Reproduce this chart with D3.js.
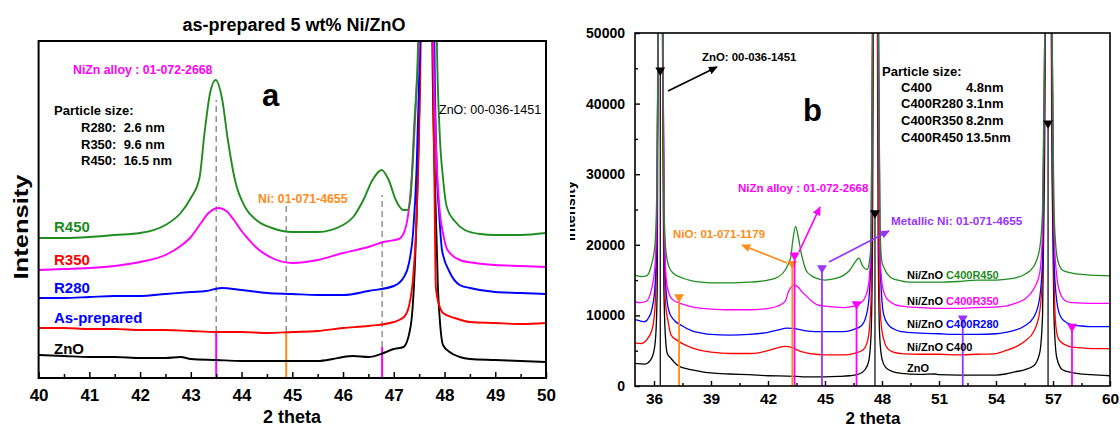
<!DOCTYPE html>
<html><head><meta charset="utf-8">
<script src="https://cdn.jsdelivr.net/npm/d3@7"></script>
<style>
body{margin:0;background:#fff}
svg{display:block}
text{font-family:"Liberation Sans",Arial,sans-serif}
</style>
</head><body>
<svg id="c" width="1120" height="427"></svg>
<script>
// ---------------- Panel a data (2 theta, arbitrary intensity) ----------------
const aTicks = [40,41,42,43,44,45,46,47,48,49,50];
const aSeries = ["ZnO","As-prepared","R280","R350","R450"];
const aZnO = [[40,23],[40.5,22],[41,21],[41.5,21],[42,20],[42.5,20],[42.8,21],[43,19],[43.5,18],[44,17],[44.5,17],[45,17],[45.5,17],[45.8,19],[46,21],[46.2,22],[46.5,21],[46.8,25],[47,29],[47.19,31],[47.33,51],[47.4,95],[47.46,180],[47.52,337],[47.65,2500],[47.76,337],[47.82,180],[47.87,90],[47.92,50],[47.97,33],[48.1,26],[48.3,21],[48.5,19],[49,18],[49.5,17],[50,16]];
const aAsPrep = [[40,50],[40.5,50],[41,49],[41.5,49],[42,48],[42.5,48],[43,47],[43.5,46],[44,46],[44.5,45],[45,46],[45.5,47],[46,50],[46.5,52],[47,56],[47.2,61],[47.3,72],[47.38,100],[47.45,160],[47.5,250],[47.53,337],[47.65,2500],[47.77,337],[47.8,200],[47.83,90],[47.9,72],[47.97,65],[48.2,60],[48.5,56],[49,55],[49.5,54],[50,55]];
const aR280 = [[40,80],[40.5,80],[41,81],[41.5,82],[42,82],[42.5,84],[43,86],[43.3,87],[43.6,90],[44,88],[44.5,85],[45,84],[45.5,83],[46,83],[46.5,87],[47,92],[47.2,101],[47.3,115],[47.38,145],[47.45,210],[47.5,300],[47.52,337],[47.65,2500],[47.8,337],[47.84,220],[47.9,160],[47.95,128],[48.1,106],[48.3,93],[48.5,90],[49,86],[49.5,85],[50,84]];
const aR350 = [[40,108],[40.5,109],[41,110],[41.5,112],[42,116],[42.5,123],[42.8,132],[43,141],[43.2,155],[43.35,165],[43.55,170],[43.7,167],[43.85,158],[44,147],[44.15,138],[44.3,130],[44.6,120],[45,115],[45.5,118],[46,125],[46.5,131],[46.8,136],[47.1,139],[47.22,148],[47.3,170],[47.38,220],[47.45,290],[47.5,337],[47.65,2500],[47.78,337],[47.82,250],[47.9,170],[47.97,145],[48.06,128],[48.3,118],[48.6,115],[49,113],[49.5,112],[50,111]];
const aR450 = [[40,140],[40.5,140],[41,141],[41.5,143],[42,145],[42.5,153],[42.8,165],[43,180],[43.17,200],[43.27,245],[43.38,285],[43.49,298],[43.62,278],[43.73,238],[43.87,198],[44.08,170],[44.29,158],[44.6,150],[45,146],[45.5,146],[46,153],[46.2,161],[46.4,178],[46.58,198],[46.76,208],[46.9,198],[47.04,178],[47.19,168],[47.27,168],[47.33,180],[47.4,250],[47.48,337],[47.65,2500],[47.85,337],[47.9,250],[47.97,200],[48.05,170],[48.2,157],[48.4,148],[48.7,144],[49,143],[49.5,143],[50,145]];
// reference patterns, panel a
const aRefX = [43.5, 44.88, 46.77];
const aRefH = [46, 46, 31];
const aRefDashTop = [278, 173, 183];
const aRefPhase = ["NiZn","Ni","NiZn"];

// ---------------- Panel b data (2 theta, counts) ----------------
const bTicks = [36,39,42,45,48,51,54,57,60];
const bYTicks = [0,10000,20000,30000,40000,50000];
const bSeries = ["ZnO","C400","C400R280","C400R350","C400R450"];
const bZnO = [[35,3200],[35.5,3100],[35.8,3600],[36.0,5000],[36.1,7500],[36.17,14000],[36.2,40000],[36.33,120000],[36.46,40000],[36.52,14000],[36.6,7000],[36.7,4600],[36.9,3900],[37.2,3000],[37.5,2600],[38,2300],[39,1850],[40,1700],[41,1600],[42,1450],[43,1400],[43.5,1350],[44,1300],[45,1300],[45.7,1350],[46.3,1450],[46.8,1700],[47.1,2300],[47.3,3500],[47.42,7000],[47.5,20000],[47.55,60000],[47.65,120000],[47.75,60000],[47.8,20000],[47.88,7000],[48,3800],[48.2,2600],[48.6,2000],[49,1800],[50,1650],[50.8,1700],[51,1600],[52,1550],[53,1550],[54,1550],[54.5,1700],[55,2000],[55.5,2300],[56,2900],[56.3,4700],[56.45,10000],[56.55,30000],[56.75,120000],[56.95,30000],[57.05,10000],[57.2,4000],[57.5,2300],[58,1900],[59,1600],[60,1450]];
const bC400 = [[35,6100],[35.3,6000],[35.6,6500],[35.9,8000],[36.05,11000],[36.15,20000],[36.2,45000],[36.33,120000],[36.46,45000],[36.52,20000],[36.6,12000],[36.75,9000],[36.9,7200],[37.2,6500],[37.5,6000],[38,5400],[38.5,5000],[39,4800],[40,4600],[41,4600],[41.5,4700],[42,5000],[42.5,5400],[42.9,5600],[43.3,5400],[43.7,4900],[44,4700],[44.5,4500],[45,4400],[46,4400],[46.5,4600],[47,5100],[47.2,6000],[47.35,8500],[47.45,15000],[47.52,50000],[47.65,120000],[47.78,50000],[47.85,15000],[47.95,9000],[48.1,6500],[48.3,5300],[48.6,4800],[49,4600],[50,4500],[51,4500],[52,4400],[53,4500],[54,4600],[54.5,5000],[55,5500],[55.5,6300],[56,7800],[56.3,10500],[56.45,16000],[56.55,40000],[56.75,120000],[56.95,40000],[57.05,16000],[57.15,8500],[57.3,6600],[57.6,5900],[58,5500],[58.5,5400],[59,5300],[60,5300]];
const bC400R280 = [[35,9400],[35.3,9200],[35.5,9100],[35.7,9600],[35.9,11000],[36.05,14000],[36.15,22000],[36.2,45000],[36.33,120000],[36.48,45000],[36.55,20000],[36.65,13000],[36.8,10500],[37,9500],[37.5,8500],[38,7800],[38.5,7500],[39,7300],[40,7200],[41,7300],[42,7600],[42.5,7900],[43,8200],[43.5,8100],[44,7800],[44.5,7700],[45,7700],[46,7700],[46.5,8000],[46.9,8500],[47.15,9800],[47.3,12000],[47.42,18000],[47.5,50000],[47.65,120000],[47.82,50000],[47.9,18000],[48,12000],[48.1,10000],[48.3,8800],[48.6,8100],[49,7700],[50,7500],[51,7400],[52,7300],[53,7300],[54,7400],[54.5,7600],[55,7900],[55.5,8500],[56,9800],[56.3,12500],[56.45,18000],[56.55,45000],[56.75,120000],[56.97,45000],[57.05,18000],[57.2,12000],[57.4,9800],[57.7,9000],[58,8700],[58.5,8500],[59,8400],[60,8400]];
const bC400R350 = [[35,11900],[35.3,11800],[35.6,12000],[35.85,13500],[36.05,17000],[36.15,25000],[36.2,45000],[36.33,120000],[36.48,45000],[36.55,22000],[36.65,15000],[36.8,13000],[37,12200],[37.5,11600],[38,11200],[38.5,11000],[39,10900],[40,10800],[41,10800],[42,11000],[42.5,11300],[42.9,12000],[43.1,13500],[43.38,14300],[43.6,14000],[43.8,13300],[44,12800],[44.3,12000],[44.6,11500],[45,11300],[46,11100],[46.5,11300],[46.9,11800],[47.15,12800],[47.3,14500],[47.42,20000],[47.5,50000],[47.65,120000],[47.8,50000],[47.88,20000],[48,14500],[48.2,12600],[48.5,11800],[49,11300],[50,11100],[51,11000],[52,11000],[53,11100],[54,11200],[54.5,11300],[55,11700],[55.5,12300],[56,13800],[56.3,16000],[56.45,22000],[56.55,45000],[56.75,120000],[56.97,45000],[57.05,22000],[57.2,15500],[57.4,13000],[57.7,12000],[58,11800],[59,11700],[60,11700]];
const bC400R450 = [[35,15700],[35.3,15500],[35.6,15600],[35.85,17000],[36.05,20000],[36.15,28000],[36.2,45000],[36.33,120000],[36.46,45000],[36.53,25000],[36.63,19000],[36.8,16800],[37,16000],[37.5,15300],[38,14900],[38.5,14700],[39,14600],[40,14600],[41,14700],[41.5,14800],[42,15000],[42.5,15400],[42.9,16400],[43.1,17500],[43.2,18300],[43.3,20500],[43.45,22600],[43.6,21000],[43.75,18800],[43.9,17200],[44,16400],[44.3,15600],[44.6,15200],[45,15000],[45.5,15200],[46,15700],[46.3,16400],[46.55,17400],[46.78,18100],[47.0,16900],[47.22,16500],[47.38,18500],[47.45,24000],[47.5,50000],[47.65,120000],[47.82,50000],[47.9,22000],[48,17500],[48.1,16800],[48.3,15800],[48.5,15300],[49,14900],[49.5,14700],[50,14700],[51,14700],[52,14800],[53,15000],[54,15000],[54.5,15100],[55,15300],[55.5,15800],[56,17000],[56.3,19500],[56.45,25000],[56.55,45000],[56.75,120000],[56.97,45000],[57.05,25000],[57.2,18500],[57.35,17000],[57.5,16400],[58,16000],[58.5,15800],[59,15700],[60,15600]];
// reference patterns, panel b (position, marker height, phase)
const bRefX = [36.33, 47.63, 56.74, 37.32, 43.28, 43.4, 46.66, 58.0, 44.84, 52.25];
const bRefH = [44700, 24500, 37200, 12600, 17300, 18500, 11600, 8400, 16700, 9600];
const bRefPhase = ["ZnO","ZnO","ZnO","NiO","NiO","NiZn","NiZn","NiZn","Ni","Ni"];

// ---------------- styles ----------------
const GREEN = "#1e8c1e", RED = "#ff0000", BLUE = "#0000ff", MAG = "#ff00ff", BLK = "#000000";
const ORANGE = "#ff8c1a", PURPLE = "#9933ff";
const phaseColorA = {NiZn: MAG, Ni: ORANGE};
const phaseColorB = {ZnO: BLK, NiO: ORANGE, NiZn: MAG, Ni: PURPLE};

const svg = d3.select("#c");
const defs = svg.append("defs");
function marker(id, color){
  defs.append("marker").attr("id", id).attr("viewBox","0 0 10 10").attr("refX",9).attr("refY",5)
    .attr("markerWidth",9).attr("markerHeight",9).attr("markerUnits","userSpaceOnUse").attr("orient","auto")
    .append("path").attr("d","M0,0.5 L10,5 L0,9.5 Z").attr("fill",color);
}
marker("arK", BLK); marker("arO", ORANGE); marker("arM", MAG); marker("arP", PURPLE);

// ================= Panel a =================
const xA = d3.scaleLinear().domain([40,50]).range([38.6,546]);
const yA = d3.scaleLinear().domain([0,337]).range([378,41]);
defs.append("clipPath").attr("id","clipA").append("rect")
  .attr("x",xA(40)).attr("y",yA(337)).attr("width",xA(50)-xA(40)).attr("height",yA(0)-yA(337));
const gA = svg.append("g");
const lineA = d3.line().x(d=>xA(d[0])).y(d=>yA(d[1])).curve(d3.curveMonotoneX);

// dashed guides + reference bars
const refA = gA.append("g").attr("clip-path","url(#clipA)");
aRefX.forEach((x,i)=>{
  refA.append("line").attr("x1",xA(x)).attr("x2",xA(x)).attr("y1",yA(aRefH[i])).attr("y2",yA(aRefDashTop[i]))
    .attr("stroke","#808080").attr("stroke-width",1.3).attr("stroke-dasharray","6,4");
  refA.append("line").attr("x1",xA(x)).attr("x2",xA(x)).attr("y1",yA(0)).attr("y2",yA(aRefH[i]))
    .attr("stroke", phaseColorA[aRefPhase[i]]).attr("stroke-width",2);
});

const curvesA = gA.append("g").attr("clip-path","url(#clipA)");
[[aZnO,BLK],[aAsPrep,RED],[aR280,BLUE],[aR350,MAG],[aR450,GREEN]].forEach(([d,c])=>{
  curvesA.append("path").datum(d).attr("d",lineA).attr("fill","none").attr("stroke",c).attr("stroke-width",1.9).attr("stroke-linejoin","round");
});

// axes a
const axA = gA.append("g").attr("transform",`translate(0,${yA(0)})`)
  .call(d3.axisBottom(xA).tickValues(aTicks).tickFormat(d3.format("d")).tickSizeInner(-6).tickSizeOuter(0).tickPadding(11));
axA.select(".domain").remove();
axA.selectAll(".tick line").attr("stroke","#000").attr("stroke-width",1.5);
axA.selectAll("text").attr("font-size",17).attr("font-weight","bold").attr("fill","#000").attr("font-family","Liberation Sans, Arial, sans-serif");
const axAm = gA.append("g").attr("transform",`translate(0,${yA(0)})`)
  .call(d3.axisBottom(xA).tickValues(d3.range(40.5,50,1)).tickFormat("").tickSizeInner(-4).tickSizeOuter(0));
axAm.select(".domain").remove();
axAm.selectAll(".tick line").attr("stroke","#000").attr("stroke-width",1.5);
gA.append("rect").attr("x",xA(40)).attr("y",yA(337)).attr("width",xA(50)-xA(40)).attr("height",yA(0)-yA(337))
  .attr("fill","none").attr("stroke","#000").attr("stroke-width",2);

// texts a
function txt(g,x,y,s,opt){
  const t = g.append("text").attr("x",x).attr("y",y).text(s)
    .attr("font-size",opt.size||12).attr("font-weight",opt.weight||"bold").attr("fill",opt.color||"#000")
    .attr("text-anchor",opt.anchor||"start").attr("dominant-baseline","central").style("white-space","pre");
  if(opt.family) t.attr("font-family",opt.family);
  return t;
}
txt(gA,294,25,"as-prepared 5 wt% Ni/ZnO",{size:18,anchor:"middle"});
txt(gA,292,417,"2 theta",{size:18,anchor:"middle"});
gA.append("text").attr("transform","translate(21,227) rotate(-90)").attr("text-anchor","middle").attr("dominant-baseline","central")
  .attr("font-size",20).attr("font-weight","bold").attr("textLength",105).attr("lengthAdjust","spacingAndGlyphs").text("Intensity");
txt(gA,73,70,"NiZn alloy : 01-072-2668",{size:12.3,color:MAG});
txt(gA,262,95,"a",{size:31,family:"Liberation Serif, Times New Roman, serif"});
txt(gA,54,110,"Particle size:",{size:13});
txt(gA,81,127,"R280:  2.6 nm",{size:13});
txt(gA,81,144,"R350:  9.6 nm",{size:13});
txt(gA,81,160,"R450:  16.5 nm",{size:13});
txt(gA,439,110,"ZnO: 00-036-1451",{size:12.5,weight:"normal"});
txt(gA,258,199,"Ni: 01-071-4655",{size:12.3,color:ORANGE});
const aLabelY = [348,317,287,259,226];
const aLabelTxt = ["ZnO","As-prepared","R280","R350","R450"];
const aLabelCol = [BLK,BLUE,BLUE,RED,GREEN];
aLabelTxt.forEach((s,i)=>txt(gA,54,aLabelY[i],s,{size:15,color:aLabelCol[i]}));

// ================= Panel b =================
const xB = d3.scaleLinear().domain([35,60]).range([635,1110]);
const yB = d3.scaleLinear().domain([0,50000]).range([386,33]);
defs.append("clipPath").attr("id","clipB").append("rect")
  .attr("x",xB(35)).attr("y",yB(50000)).attr("width",xB(60)-xB(35)).attr("height",yB(0)-yB(50000));
const gB = svg.append("g");
const lineB = d3.line().x(d=>xB(d[0])).y(d=>yB(d[1])).curve(d3.curveMonotoneX);

const curvesB = gB.append("g").attr("clip-path","url(#clipB)");
[[bZnO,BLK],[bC400,RED],[bC400R280,BLUE],[bC400R350,MAG],[bC400R450,GREEN]].forEach(([d,c])=>{
  curvesB.append("path").datum(d).attr("d",lineB).attr("fill","none").attr("stroke",c).attr("stroke-width",1.3).attr("stroke-linejoin","round");
});
// reference bars with triangles
const tri = d3.symbol().type(d3.symbolTriangle).size(42);
bRefX.forEach((x,i)=>{
  const c = phaseColorB[bRefPhase[i]];
  curvesB.append("line").attr("x1",xB(x)).attr("x2",xB(x)).attr("y1",yB(0)).attr("y2",yB(bRefH[i]))
    .attr("stroke",c).attr("stroke-width",c===BLK?1.2:1.8);
  curvesB.append("path").attr("d",tri).attr("fill",c)
    .attr("transform",`translate(${xB(x)},${yB(bRefH[i])}) rotate(180)`);
});

// axes b
const axBx = gB.append("g").attr("transform",`translate(0,${yB(0)})`)
  .call(d3.axisBottom(xB).tickValues(bTicks).tickFormat(d3.format("d")).tickSizeInner(-5).tickSizeOuter(0).tickPadding(7));
const axBxm = gB.append("g").attr("transform",`translate(0,${yB(0)})`)
  .call(d3.axisBottom(xB).tickValues(d3.range(37.5,60,3)).tickFormat("").tickSizeInner(-3).tickSizeOuter(0));
const axBy = gB.append("g").attr("transform",`translate(${xB(35)},0)`)
  .call(d3.axisLeft(yB).tickValues(bYTicks).tickFormat(d3.format("d")).tickSizeInner(-5).tickSizeOuter(0).tickPadding(10));
const axBym = gB.append("g").attr("transform",`translate(${xB(35)},0)`)
  .call(d3.axisLeft(yB).tickValues([5000,15000,25000,35000,45000]).tickFormat("").tickSizeInner(-3).tickSizeOuter(0));
[axBx,axBxm,axBy,axBym].forEach(a=>{a.select(".domain").remove(); a.selectAll(".tick line").attr("stroke","#000").attr("stroke-width",1.4);});
axBx.selectAll("text").attr("font-size",15.5).attr("font-weight","bold").attr("fill","#000").attr("font-family","Liberation Sans, Arial, sans-serif");
axBy.selectAll("text").attr("font-size",14).attr("font-weight","bold").attr("fill","#000").attr("font-family","Liberation Sans, Arial, sans-serif");
gB.append("rect").attr("x",xB(35)).attr("y",yB(50000)).attr("width",xB(60)-xB(35)).attr("height",yB(0)-yB(50000))
  .attr("fill","none").attr("stroke","#000").attr("stroke-width",1.6);

// texts b
txt(gB,873,418,"2 theta",{size:17,anchor:"middle"});
defs.append("clipPath").attr("id","clipYL").append("rect").attr("x",570).attr("y",0).attr("width",40).attr("height",427);
gB.append("g").attr("clip-path","url(#clipYL)").append("text").attr("transform","translate(569,211) rotate(-90)").attr("text-anchor","middle").attr("dominant-baseline","central")
  .attr("font-size",15).attr("font-weight","bold").attr("textLength",60).attr("lengthAdjust","spacingAndGlyphs").text("Intensity");
txt(gB,803,110,"b",{size:31,family:"Liberation Serif, Times New Roman, serif"});
txt(gB,702,57,"ZnO: 00-036-1451",{size:11.4});
txt(gB,882,71,"Particle size:",{size:13});
const bSizeName = ["C400","C400R280","C400R350","C400R450"];
const bSizeVal = ["4.8nm","3.1nm","8.2nm","13.5nm"];
bSizeName.forEach((s,i)=>{ txt(gB,901,87+i*16.7,s,{size:13}); txt(gB,966,87+i*16.7,bSizeVal[i],{size:13}); });
txt(gB,738,188,"NiZn alloy : 01-072-2668",{size:11.5,color:MAG});
txt(gB,673,234,"NiO: 01-071-1179",{size:11.5,color:ORANGE});
txt(gB,891,220,"Metallic Ni: 01-071-4655",{size:11.7,color:PURPLE});
// arrows
function arrow(x1,y1,x2,y2,c,m){
  gB.append("line").attr("x1",x1).attr("y1",y1).attr("x2",x2).attr("y2",y2).attr("stroke",c).attr("stroke-width",1.7).attr("marker-end",`url(#${m})`);
}
arrow(668,91,717,67,BLK,"arK");
arrow(787,263,742,245,ORANGE,"arO");
arrow(799,252,820,207,MAG,"arM");
arrow(829,262,889,231,PURPLE,"arP");
// series labels b
const bLabelY = [368,347,324,301,275];
const bLabelPre = ["","Ni/ZnO ","Ni/ZnO ","Ni/ZnO ","Ni/ZnO "];
const bLabelName = ["ZnO","C400","C400R280","C400R350","C400R450"];
const bLabelCol = [BLK,BLK,BLUE,MAG,GREEN];
bLabelName.forEach((s,i)=>{
  const t = txt(gB,907,bLabelY[i],"",{size:11});
  t.append("tspan").attr("fill","#000").text(bLabelPre[i]);
  t.append("tspan").attr("fill",bLabelCol[i]).text(s);
});
</script>
</body></html>
